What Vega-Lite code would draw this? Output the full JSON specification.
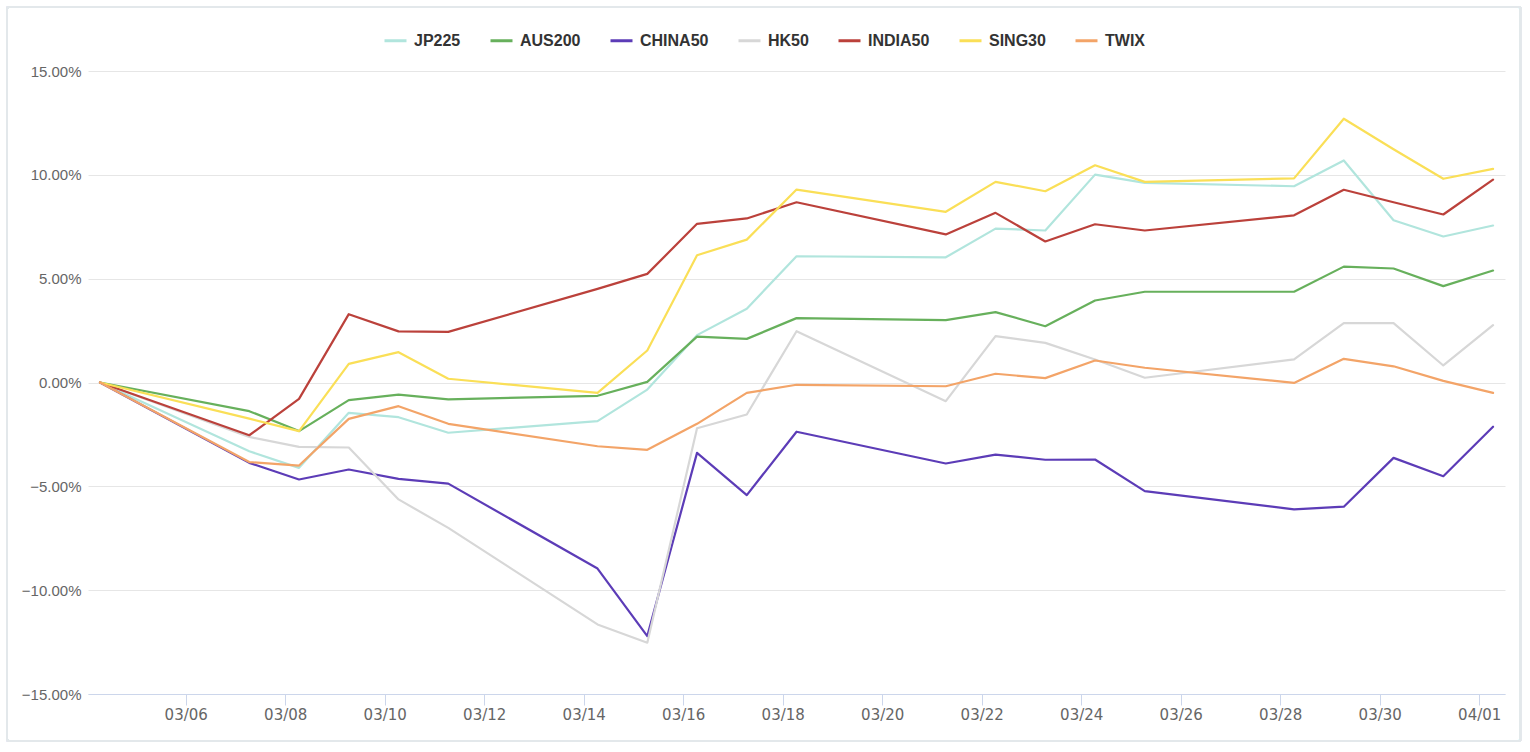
{
  "$schema": "https://vega.github.io/schema/vega-lite/v6.json",
  "autosize": {"type": "none"},
  "width": 1417,
  "height": 623,
  "padding": {"left": 88, "top": 71, "right": 25, "bottom": 58},
  "background": "#ffffff",
  "config": {
    "view": {"stroke": null},
    "axis": {"labelColor": "#666666", "labelFontSize": 15, "title": null}
  },
  "data": {
    "values": [
      {"date": "2022-03-04T06:40", "JP225": 0, "AUS200": 0, "CHINA50": 0, "HK50": 0, "INDIA50": 0, "SING30": 0, "TWIX": 0},
      {"date": "2022-03-07T06:40", "JP225": -3.31, "AUS200": -1.38, "CHINA50": -3.87, "HK50": -2.62, "INDIA50": -2.54, "SING30": -1.74, "TWIX": -3.83},
      {"date": "2022-03-08T06:40", "JP225": -4.11, "AUS200": -2.34, "CHINA50": -4.67, "HK50": -3.10, "INDIA50": -0.79, "SING30": -2.34, "TWIX": -4.0},
      {"date": "2022-03-09T06:40", "JP225": -1.46, "AUS200": -0.85, "CHINA50": -4.19, "HK50": -3.13, "INDIA50": 3.29, "SING30": 0.90, "TWIX": -1.75},
      {"date": "2022-03-10T06:40", "JP225": -1.67, "AUS200": -0.58, "CHINA50": -4.64, "HK50": -5.63, "INDIA50": 2.46, "SING30": 1.46, "TWIX": -1.14},
      {"date": "2022-03-11T06:40", "JP225": -2.42, "AUS200": -0.81, "CHINA50": -4.87, "HK50": -7.0, "INDIA50": 2.44, "SING30": 0.18, "TWIX": -1.99},
      {"date": "2022-03-14T06:40", "JP225": -1.86, "AUS200": -0.64, "CHINA50": -8.96, "HK50": -11.65, "INDIA50": 4.51, "SING30": -0.50, "TWIX": -3.07},
      {"date": "2022-03-15T06:40", "JP225": -0.34, "AUS200": 0.03, "CHINA50": -12.21, "HK50": -12.53, "INDIA50": 5.23, "SING30": 1.54, "TWIX": -3.24},
      {"date": "2022-03-16T06:40", "JP225": 2.28, "AUS200": 2.21, "CHINA50": -3.39, "HK50": -2.2, "INDIA50": 7.64, "SING30": 6.13, "TWIX": -1.99},
      {"date": "2022-03-17T06:40", "JP225": 3.55, "AUS200": 2.10, "CHINA50": -5.42, "HK50": -1.54, "INDIA50": 7.90, "SING30": 6.88, "TWIX": -0.50},
      {"date": "2022-03-18T06:40", "JP225": 6.08, "AUS200": 3.10, "CHINA50": -2.37, "HK50": 2.47, "INDIA50": 8.68, "SING30": 9.29, "TWIX": -0.11},
      {"date": "2022-03-21T06:40", "JP225": 6.03, "AUS200": 3.00, "CHINA50": -3.9, "HK50": -0.90, "INDIA50": 7.13, "SING30": 8.22, "TWIX": -0.18},
      {"date": "2022-03-22T06:40", "JP225": 7.41, "AUS200": 3.39, "CHINA50": -3.47, "HK50": 2.23, "INDIA50": 8.17, "SING30": 9.66, "TWIX": 0.42},
      {"date": "2022-03-23T06:40", "JP225": 7.32, "AUS200": 2.71, "CHINA50": -3.72, "HK50": 1.91, "INDIA50": 6.79, "SING30": 9.21, "TWIX": 0.21},
      {"date": "2022-03-24T06:40", "JP225": 10.01, "AUS200": 3.95, "CHINA50": -3.71, "HK50": 1.11, "INDIA50": 7.62, "SING30": 10.46, "TWIX": 1.06},
      {"date": "2022-03-25T06:40", "JP225": 9.61, "AUS200": 4.37, "CHINA50": -5.23, "HK50": 0.23, "INDIA50": 7.32, "SING30": 9.66, "TWIX": 0.71},
      {"date": "2022-03-28T06:40", "JP225": 9.45, "AUS200": 4.37, "CHINA50": -6.11, "HK50": 1.11, "INDIA50": 8.05, "SING30": 9.83, "TWIX": -0.02},
      {"date": "2022-03-29T06:40", "JP225": 10.69, "AUS200": 5.58, "CHINA50": -5.98, "HK50": 2.86, "INDIA50": 9.28, "SING30": 12.70, "TWIX": 1.14},
      {"date": "2022-03-30T06:40", "JP225": 7.81, "AUS200": 5.49, "CHINA50": -3.63, "HK50": 2.86, "INDIA50": 8.68, "SING30": 11.23, "TWIX": 0.78},
      {"date": "2022-03-31T06:40", "JP225": 7.03, "AUS200": 4.64, "CHINA50": -4.51, "HK50": 0.82, "INDIA50": 8.09, "SING30": 9.81, "TWIX": 0.08},
      {"date": "2022-04-01T06:40", "JP225": 7.56, "AUS200": 5.39, "CHINA50": -2.13, "HK50": 2.76, "INDIA50": 9.77, "SING30": 10.29, "TWIX": -0.50}
    ]
  },
  "layer": [
    {
      "mark": {"type": "rect", "fill": null, "stroke": "#e3e8eb", "strokeWidth": 2, "cornerRadius": 2, "clip": false},
      "encoding": {
        "x": {"datum": {"year": 2022, "month": 3, "date": 2, "hours": 9, "minutes": 48}, "type": "temporal"},
        "x2": {"datum": {"year": 2022, "month": 4, "date": 1, "hours": 19, "minutes": 55}},
        "y": {"datum": 18.08, "type": "quantitative"},
        "y2": {"datum": -17.26}
      }
    },
    {
      "transform": [
        {"fold": ["JP225", "AUS200", "CHINA50", "HK50", "INDIA50", "SING30", "TWIX"], "as": ["series", "value"]}
      ],
      "mark": {"type": "line", "strokeWidth": 2.2, "strokeJoin": "round", "strokeCap": "round", "clip": false},
      "encoding": {
        "x": {
          "field": "date",
          "type": "temporal",
          "scale": {
            "domain": [
              {"year": 2022, "month": 3, "date": 4, "hours": 0, "minutes": 52},
              {"year": 2022, "month": 4, "date": 1, "hours": 12, "minutes": 26}
            ],
            "nice": false
          },
          "axis": {
            "values": [
              {"year": 2022, "month": 3, "date": 6},
              {"year": 2022, "month": 3, "date": 8},
              {"year": 2022, "month": 3, "date": 10},
              {"year": 2022, "month": 3, "date": 12},
              {"year": 2022, "month": 3, "date": 14},
              {"year": 2022, "month": 3, "date": 16},
              {"year": 2022, "month": 3, "date": 18},
              {"year": 2022, "month": 3, "date": 20},
              {"year": 2022, "month": 3, "date": 22},
              {"year": 2022, "month": 3, "date": 24},
              {"year": 2022, "month": 3, "date": 26},
              {"year": 2022, "month": 3, "date": 28},
              {"year": 2022, "month": 3, "date": 30},
              {"year": 2022, "month": 4, "date": 1}
            ],
            "format": "%m/%d",
            "grid": false,
            "domainColor": "#ccd6eb",
            "domainWidth": 1,
            "tickColor": "#ccd6eb",
            "tickSize": 11,
            "labelPadding": 2,
            "labelFont": "DejaVu Sans",
            "labelFontSize": 15,
            "labelFlush": false,
            "labelOverlap": false
          }
        },
        "y": {
          "field": "value",
          "type": "quantitative",
          "scale": {"domain": [-15, 15], "nice": false, "zero": false},
          "axis": {
            "values": [-15, -10, -5, 0, 5, 10, 15],
            "labelExpr": "format(datum.value, '.2f') + '%'",
            "domain": false,
            "ticks": false,
            "grid": true,
            "gridColor": "#e6e6e6",
            "gridWidth": 1,
            "labelPadding": 7,
            "labelFont": "Liberation Sans",
            "labelFontSize": 15
          }
        },
        "color": {
          "field": "series",
          "type": "nominal",
          "scale": {
            "domain": ["JP225", "AUS200", "CHINA50", "HK50", "INDIA50", "SING30", "TWIX"],
            "range": ["#b1e5dd", "#67b05c", "#5c3cb7", "#d7d7d7", "#bb413b", "#fadf57", "#f3a468"]
          },
          "legend": {
            "title": null,
            "orient": "none",
            "direction": "horizontal",
            "columns": 7,
            "legendX": 295,
            "legendY": -43,
            "padding": 0,
            "symbolType": "stroke",
            "symbolSize": 484,
            "symbolStrokeWidth": 3,
            "labelOffset": 6,
            "columnPadding": 23,
            "labelFont": "Liberation Sans",
            "labelFontSize": 16,
            "labelFontWeight": "bold",
            "labelColor": "#333333"
          }
        },
        "order": {"field": "date", "type": "temporal"}
      }
    }
  ]
}
